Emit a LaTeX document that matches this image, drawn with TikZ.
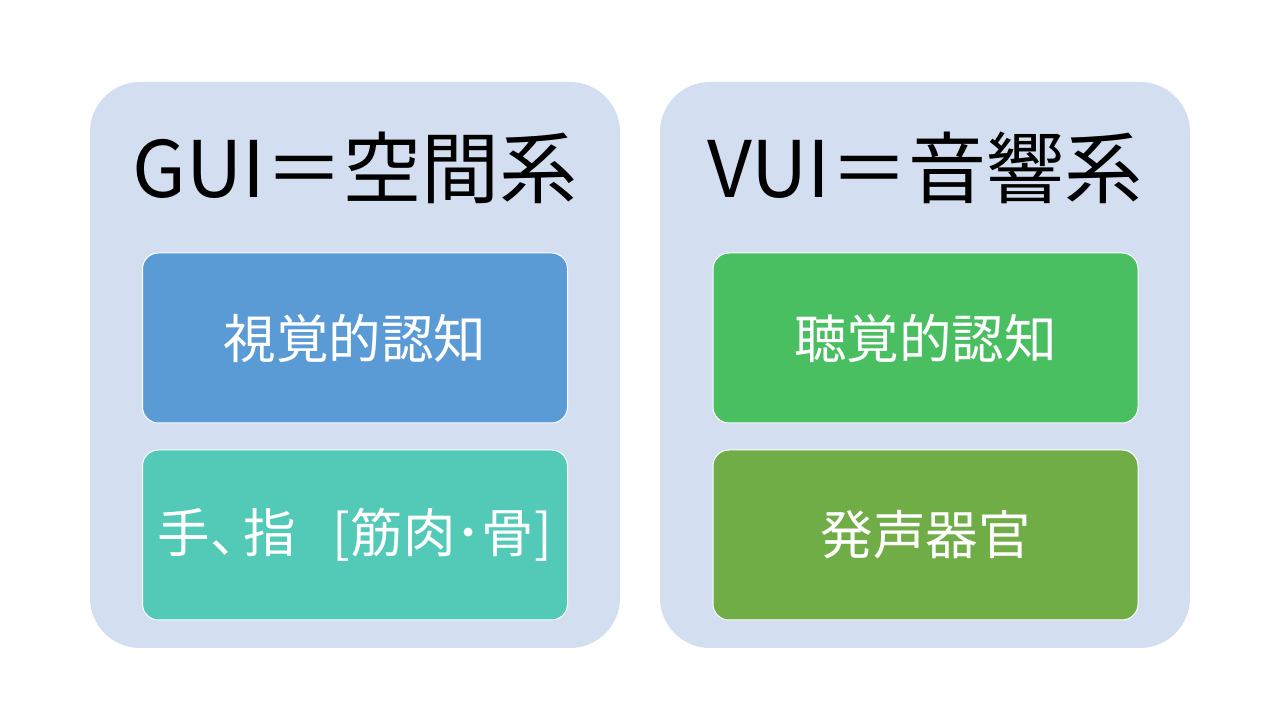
\documentclass[tikz,border=0pt]{standalone}
\usepackage{fontspec}
\setmainfont{Noto Sans CJK JP}
\definecolor{panelbg}{HTML}{D3DEF0}
\definecolor{visualblue}{HTML}{5B9BD5}
\definecolor{handteal}{HTML}{53C9B7}
\definecolor{audiogreen}{HTML}{4ABF62}
\definecolor{voiceolive}{HTML}{70AD47}

\begin{document}
\begin{tikzpicture}[x=1pt,y=1pt]
    \tikzstyle{panel}     = [draw=none,fill=panelbg,rounded corners=50pt,
                             minimum width=530pt,minimum height=566pt]
    \tikzstyle{title}     = [font=\fontsize{78}{86}\selectfont,text=black]
    \tikzstyle{item}      = [draw=white,line width=1pt,rounded corners=16pt,
                             minimum width=425pt,minimum height=170pt,
                             text=white,font=\fontsize{52.5}{60}\selectfont]

    \useasboundingbox (0,0) rectangle (1280,720);

    \node[panel]                  (gui)    at (355,355) {};
    \node[panel]                  (vui)    at (925,355) {};

    \node[title]                  (guit)   at (355,552) {GUI＝空間系};
    \node[title]                  (vuit)   at (925,552) {VUI＝音響系};

    \node[item,fill=visualblue]   (visual) at (355,382) {視覚的認知};
    \node[item,fill=handteal]     (hand)   at (355,185) {手、\hspace{-0.37em}指\hspace{0.7em}[筋肉･骨]};
    \node[item,fill=audiogreen]   (audio)  at (925.5,382) {聴覚的認知};
    \node[item,fill=voiceolive]   (voice)  at (925.5,185) {発声器官};
\end{tikzpicture}
\end{document}
